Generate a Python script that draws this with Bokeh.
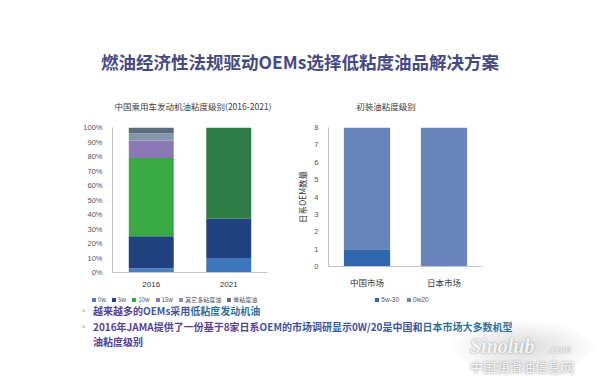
from bokeh.plotting import figure
from bokeh.models import (Div, Spacer, FixedTicker, NumeralTickFormatter, Range1d,
                          FactorRange, ColumnDataSource)
from bokeh.layouts import row, column
from bokeh.embed import file_html
from bokeh.resources import INLINE
import numpy as np

# ---------------- data ----------------
years = ["2016", "2021"]
grade_names = ["0w", "5w", "10w", "15w", "其它多粘度油", "单粘度油"]
share_0w = [0.03, 0.10]
share_5w = [0.22, 0.27]
share_10w = [0.54, 0.63]
share_15w = [0.12, 0.00]
share_other = [0.05, 0.00]
share_single = [0.04, 0.00]
left_ticks = [0.0, 0.1, 0.2, 0.3, 0.4, 0.5, 0.6, 0.7, 0.8, 0.9, 1.0]

markets = ["中国市场", "日本市场"]
oem_names = ["5w-30", "0w20"]
oem_5w30 = [1, 0]
oem_0w20 = [7, 8]
right_ticks = [0, 1, 2, 3, 4, 5, 6, 7, 8]

title_text = "燃油经济性法规驱动OEMs选择低粘度油品解决方案"
left_title = "中国乘用车发动机油粘度级别(2016-2021)"
right_title = "初装油粘度级别"
right_ylabel = "日系OEM数量"

# ---------------- styles ----------------
CJK = "Noto Sans CJK SC"
LAT = "Liberation Sans"
left_colors = [["#4a7fc0", "#3f76bb"],   # 0w
               ["#21427e", "#21427e"],   # 5w
               ["#3aa845", "#2f7d46"],   # 10w
               ["#8c78b4", "#8c78b4"],   # 15w
               ["#8596ab", "#8596ab"],   # other
               ["#5d6b7f", "#5d6b7f"]]   # single
right_colors = ["#2f67ae", "#6884b8"]


def style_axes(p):
    for ax in (p.xaxis[0], p.yaxis[0]):
        ax.axis_line_color = "#c4c4c4"
        ax.major_tick_line_color = None
        ax.minor_tick_line_color = None
        ax.major_label_text_color = "#555555"
    p.yaxis.major_label_text_font = LAT
    p.yaxis.major_label_text_font_size = "7.5px"
    p.yaxis.major_label_standoff = 4
    p.xaxis.major_label_standoff = 3
    p.xgrid.grid_line_color = None
    p.ygrid.grid_line_color = None
    p.outline_line_color = None
    p.background_fill_color = "white"
    p.border_fill_color = "white"


def title_block(text, width, pad):
    return Div(text=(
        f'<div style="width:{width}px;height:22px;box-sizing:border-box;{pad}'
        f'display:flex;align-items:center;justify-content:center;'
        f'font-family:\'{CJK}\';font-size:8.5px;color:#404040;background:white;">'
        f'{text}</div>'), width=width, height=22, margin=0)


def legend_block(names, colors, font, size, width, pad, gap):
    items = "".join(
        f'<span style="display:inline-flex;align-items:center;margin:0 {gap}px;">'
        f'<span style="display:inline-block;width:4px;height:4px;background:{c};'
        f'margin-right:2px;"></span>{n}</span>'
        for n, c in zip(names, colors))
    return Div(text=(
        f'<div style="width:{width}px;height:13px;box-sizing:border-box;{pad}'
        f'display:flex;align-items:center;justify-content:center;white-space:nowrap;'
        f'font-family:\'{font}\';font-size:{size};color:#555555;background:white;">'
        f'{items}</div>'), width=width, height=13, margin=0)


# ---------------- left chart ----------------
p1 = figure(x_range=FactorRange(factors=years), y_range=Range1d(0, 1),
            width=200, height=173, min_border_left=31, min_border_right=13,
            min_border_top=10, min_border_bottom=18,
            output_backend="svg", toolbar_location=None, tools="")
style_axes(p1)
p1.yaxis.ticker = FixedTicker(ticks=left_ticks)
p1.yaxis.formatter = NumeralTickFormatter(format="0%")
p1.xaxis.major_label_text_font = LAT
p1.xaxis.major_label_text_font_size = "8px"
p1.xaxis.major_label_text_color = "#333333"

series = [share_0w, share_5w, share_10w, share_15w, share_other, share_single]
stack = np.vstack([np.array(s, dtype=float) for s in series])
tops = np.cumsum(stack, axis=0)
bottoms = tops - stack
for i, name in enumerate(grade_names):
    src = ColumnDataSource(dict(x=years, bottom=bottoms[i], top=tops[i],
                                color=left_colors[i]))
    p1.vbar(x="x", bottom="bottom", top="top", width=0.58, source=src,
            fill_color="color", line_color=None)

left_col = column(
    title_block(left_title, 200, "padding-left:26px;"),
    p1,
    legend_block(grade_names, [c[0] for c in left_colors], CJK, "6px", 200,
                 "padding-right:11px;", 3))

# ---------------- right chart ----------------
p2 = figure(x_range=FactorRange(factors=markets), y_range=Range1d(0, 8),
            width=210, height=173, min_border_left=38, min_border_right=18,
            min_border_top=10, min_border_bottom=22,
            output_backend="svg", toolbar_location=None, tools="")
style_axes(p2)
p2.yaxis.ticker = FixedTicker(ticks=right_ticks)
p2.xaxis.major_label_text_font = CJK
p2.xaxis.major_label_text_font_size = "8.5px"
p2.xaxis.major_label_text_color = "#333333"
p2.yaxis.axis_label = right_ylabel
p2.yaxis.axis_label_text_font = CJK
p2.yaxis.axis_label_text_font_size = "8.5px"
p2.yaxis.axis_label_text_font_style = "normal"
p2.yaxis.axis_label_text_color = "#333333"
p2.yaxis.axis_label_standoff = 3

rseries = [oem_5w30, oem_0w20]
rstack = np.vstack([np.array(s, dtype=float) for s in rseries])
rtops = np.cumsum(rstack, axis=0)
rbottoms = rtops - rstack
for i, name in enumerate(oem_names):
    src = ColumnDataSource(dict(x=markets, bottom=rbottoms[i], top=rtops[i]))
    p2.vbar(x="x", bottom="bottom", top="top", width=0.6, source=src,
            fill_color=right_colors[i], line_color=None)

right_col = column(
    title_block(right_title, 210, "padding-right:18px;"),
    p2,
    legend_block(oem_names, right_colors, LAT, "6.5px", 210, "padding-left:14px;", 4))

# ---------------- text blocks ----------------
title_div = Div(text=(
    f'<div style="width:600px;height:95px;position:relative;background:white;">'
    f'<div style="position:absolute;left:0;top:51px;width:600px;text-align:center;'
    f'font-family:\'{CJK}\';font-weight:bold;font-size:17.5px;line-height:22px;'
    f'color:#474a82;">{title_text}</div></div>'),
    width=600, height=95, margin=0)

bul = "position:absolute;left:82px;color:#c0c0c0;font-size:9px;"
txt = (f"position:absolute;left:93px;font-family:'{CJK}';font-weight:bold;"
       "font-size:10px;")
bullets_div = Div(text=(
    '<div style="width:600px;height:72px;position:relative;background:white;">'
    '<div style="position:absolute;left:448px;top:16px;width:150px;height:56px;'
    'background:radial-gradient(ellipse at center, rgba(150,150,150,0.35), rgba(255,255,255,0) 70%);"></div>'
    f'<div style="{bul}top:1px;line-height:14px;">•</div>'
    f'<div style="{txt}top:1px;line-height:14px;"><span style="color:#57409a;">越来越多的</span>'
    '<span style="color:#3c55a0;">OEMs采用</span><span style="color:#2f72a0;">低粘度发动机油</span></div>'
    f'<div style="{bul}top:17px;line-height:14.5px;">•</div>'
    f'<div style="{txt}top:17px;line-height:14.5px;"><span style="color:#57409a;">2016年JAMA提供了一份基于8家日系</span>'
    '<span style="color:#3c55a0;">OEM的市场调研显示0W/20是中国和</span>'
    '<span style="color:#2f72a0;">日本市场大多数机型</span><br>'
    '<span style="color:#57409a;">油粘度级别</span></div>'
    '<div style="position:absolute;left:470px;top:33px;font-family:\'Liberation Serif\';'
    'font-style:italic;font-weight:bold;font-size:20px;line-height:20px;color:#f4f4f4;'
    'text-shadow:0 0 2px #8a8a8a;">Sinolub</div>'
    '<div style="position:absolute;left:548px;top:40px;font-family:\'Liberation Serif\';'
    'font-style:italic;font-size:12px;line-height:12px;color:#f4f4f4;text-shadow:0 0 2px #8a8a8a;">.com</div>'
    f'<div style="position:absolute;left:470px;top:57px;font-family:\'{CJK}\';'
    'font-size:13px;line-height:14px;color:#f6f6f6;text-shadow:0 0 3px #7a7a7a;">中国润滑油信息网</div>'
    '</div>'),
    width=600, height=72, margin=0)

charts = row(Spacer(width=80, height=208), left_col, Spacer(width=10, height=208), right_col)
layout = column(title_div, charts, bullets_div)

open("out.html", "w").write(file_html(layout, INLINE))
